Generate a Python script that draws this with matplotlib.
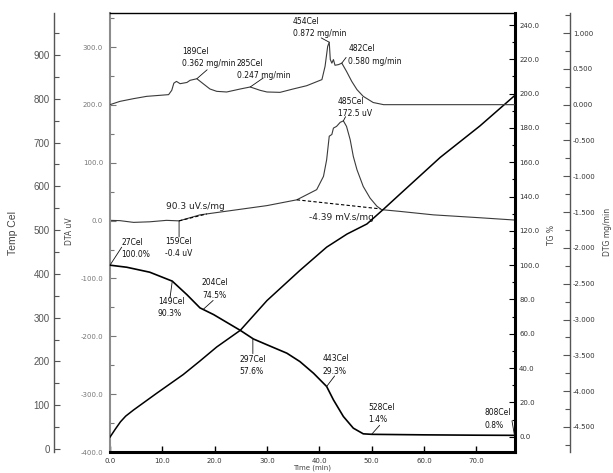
import numpy as np
import matplotlib
matplotlib.use('Agg')
import matplotlib.pyplot as plt
from matplotlib.ticker import MultipleLocator, FormatStrFormatter

plt.rcParams['axes.unicode_minus'] = False

# ---------------- data ----------------
# DTG (mg/min)
t_dtg = [0, 1.9, 4.5, 7.0, 11.2, 11.8, 12.2, 12.7, 13.4, 14.7, 15.3, 16.6, 17.8, 19.1,
         20.4, 22.3, 24.9, 26.8, 28.7, 30.0, 32.5, 35.0, 37.6, 40.5, 41.1, 41.6, 41.9,
         42.1, 42.4, 42.7, 43.0, 43.7, 44.3, 45.2, 46.2, 47.2, 48.4, 50.3, 52.3, 60, 70, 77.4]
v_dtg = [0.0, 0.046, 0.084, 0.116, 0.14, 0.2, 0.30, 0.325, 0.293, 0.31, 0.34, 0.362, 0.293,
         0.219, 0.186, 0.177, 0.219, 0.247, 0.2, 0.177, 0.172, 0.219, 0.265, 0.35, 0.535,
         0.814, 0.872, 0.63, 0.58, 0.63, 0.55, 0.56, 0.58, 0.465, 0.325, 0.21, 0.116, 0.03,
         0.0, 0.0, 0.0, 0.0]

# DTA (uV)
t_dta = [0, 1.9, 4.5, 7.6, 10.8, 13.2, 17.2, 23.6, 30.0, 35.7, 39.5, 40.8, 41.4, 41.9, 42.4,
         42.7, 43.3, 44.0, 44.6, 45.2, 45.9, 46.5, 47.2, 48.4, 49.7, 51.0, 51.9, 55.4, 61.8,
         70.7, 77.4]
v_dta = [0.5, 0, -3, -2, 0.5, -0.4, 10, 18, 26, 36, 53.6, 76.6, 105, 146, 149, 160, 163, 170,
         172.5, 163, 140, 111, 88, 59, 39, 25, 19, 16, 10, 5, 1]

# TG (%)
t_tg = [0, 3.2, 7.6, 11.9, 14.7, 17.2, 19.8, 24.9, 27.4, 30.0, 33.8, 36.3, 38.9, 41.4, 42.7,
        44.6, 46.5, 48.4, 50.0, 60, 70, 77.4]
v_tg = [100, 98.8, 95.9, 90.7, 82.8, 75.1, 71.2, 62, 57, 53.6, 48.7, 43.8, 37, 29.3, 21.5,
        11.8, 5, 1.7, 1.4, 1.1, 0.9, 0.8]

# Temperature (Cel)
t_temp = [0, 1.0, 2.0, 3.0, 4.5, 8.9, 14.0, 17.2, 20.4, 24.9, 30.0, 36.3, 41.4, 45.3, 49.1,
          52.3, 55.4, 63.1, 70.7, 77.4]
v_temp = [27, 45, 62, 75, 89, 127, 170, 201, 233, 271, 339, 408, 461, 491, 514, 548, 582,
          666, 738, 808]

x_ticks = [0, 10, 20, 30, 40, 50, 60, 70]

# peak-area annotations
area1 = "90.3 uV.s/mg"
area2 = "-4.39 mV.s/mg"
area1_range = (13.2, 18.5)
area2_range = (35.7, 51.7)

# ---------------- figure ----------------
W, H = 613, 473
L, R, B, T = 110, 515, 452, 13
fig = plt.figure(figsize=(W / 100, H / 100), dpi=100)
ax = fig.add_axes([L / W, 1 - B / H, (R - L) / W, (B - T) / H])
ax_temp = ax.twinx()
ax_tg = ax.twinx()
ax_dtg = ax.twinx()

ax.set_xlim(0, 77.4)
ax.set_ylim(-400, 359)
ax_temp.set_ylim(-7, 996)
ax_tg.set_ylim(-8.9, 247)
ax_dtg.set_ylim(-4.85, 1.28)

for a in (ax, ax_temp, ax_tg, ax_dtg):
    for s in a.spines.values():
        s.set_visible(False)

# main axes spines
ax.spines['left'].set_visible(True)
ax.spines['left'].set_color('#8c8c8c')
ax.spines['left'].set_linewidth(1.5)
ax.spines['top'].set_visible(True)
ax.spines['top'].set_color('black')
ax.spines['top'].set_linewidth(1.0)
ax.spines['bottom'].set_visible(True)
ax.spines['bottom'].set_color('black')
ax.spines['bottom'].set_linewidth(2.2)

ax_tg.spines['right'].set_visible(True)
ax_tg.spines['right'].set_color('black')
ax_tg.spines['right'].set_linewidth(2.2)

ax_temp.yaxis.tick_left()
ax_temp.spines['left'].set_visible(True)
ax_temp.spines['left'].set_position(('axes', (54 - L) / (R - L)))
ax_temp.spines['left'].set_color('#555555')
ax_temp.spines['left'].set_linewidth(1.0)

ax_dtg.spines['right'].set_visible(True)
ax_dtg.spines['right'].set_position(('axes', (570 - L) / (R - L)))
ax_dtg.spines['right'].set_color('#555555')
ax_dtg.spines['right'].set_linewidth(1.0)

# x axis
ax.xaxis.set_major_locator(plt.FixedLocator(x_ticks))
ax.xaxis.set_major_formatter(FormatStrFormatter('%.1f'))
ax.tick_params(axis='x', direction='in', length=4, width=1.0, color='black', pad=4,
               labelsize=5, labelcolor='#333333', top=False)

# DTA axis
ax.yaxis.set_major_locator(MultipleLocator(100))
ax.yaxis.set_minor_locator(MultipleLocator(50))
ax.yaxis.set_major_formatter(FormatStrFormatter('%.1f'))
ax.tick_params(axis='y', which='major', direction='in', length=4, width=0.8,
               color='#777777', pad=5, labelsize=5, labelcolor='#777777')
ax.tick_params(axis='y', which='minor', direction='in', length=3, width=0.8, color='#777777')

# Temp axis
ax_temp.yaxis.set_major_locator(MultipleLocator(100))
ax_temp.yaxis.set_minor_locator(MultipleLocator(50))
ax_temp.yaxis.set_major_formatter(FormatStrFormatter('%d'))
ax_temp.tick_params(axis='y', which='major', direction='in', length=4.5, width=0.8,
                    color='#555555', pad=3, labelsize=7, labelcolor='#555555',
                    left=True, right=False, labelleft=True, labelright=False)
ax_temp.tick_params(axis='y', which='minor', direction='in', length=3.5, width=0.8,
                    color='#555555', left=True, right=False)
for lab in ax_temp.get_yticklabels():
    lab.set_fontfamily('Liberation Sans')

# TG axis
ax_tg.yaxis.set_major_locator(MultipleLocator(20))
ax_tg.yaxis.set_minor_locator(MultipleLocator(10))
ax_tg.yaxis.set_major_formatter(FormatStrFormatter('%.1f'))
ax_tg.tick_params(axis='y', which='major', direction='in', length=4, width=0.8,
                  color='black', pad=3, labelsize=5, labelcolor='#333333')
ax_tg.tick_params(axis='y', which='minor', direction='in', length=2.5, width=0.8, color='black')

# DTG axis
ax_dtg.yaxis.set_major_locator(MultipleLocator(0.5))
ax_dtg.yaxis.set_minor_locator(MultipleLocator(0.25))
ax_dtg.yaxis.set_major_formatter(FormatStrFormatter('%.3f'))
ax_dtg.tick_params(axis='y', which='major', direction='in', length=5, width=0.8,
                   color='#555555', pad=2, labelsize=5, labelcolor='#333333')
ax_dtg.tick_params(axis='y', which='minor', direction='in', length=3.5, width=0.8,
                   color='#555555')

# ---------------- curves ----------------
ax.plot(t_dta, v_dta, color='#3a3a3a', lw=0.8)
ax_dtg.plot(t_dtg, v_dtg, color='#3a3a3a', lw=0.8)
ax_tg.plot(t_tg, v_tg, color='black', lw=1.2)
ax_temp.plot(t_temp, v_temp, color='black', lw=1.1)

# baselines (dashed) on DTA
for rng in (area1_range, area2_range):
    ys = np.interp(rng, t_dta, v_dta)
    ax.plot(rng, ys, color='black', lw=0.8, ls=(0, (3, 2)))

ax.annotate(area1, xy=(area1_range[0], np.interp(area1_range[0], t_dta, v_dta)),
            xytext=(-13, 14), textcoords='offset pixels', fontsize=6.5, color='#222222',
            ha='left', va='center')
ax.annotate(area2, xy=(area2_range[1], np.interp(area2_range[1], t_dta, v_dta)),
            xytext=(-39, -9), textcoords='offset pixels', fontsize=6.5, color='#222222',
            ha='center', va='center')


def label(axis, t_arr, v_arr, t0, text, txt_off, lead_off):
    v0 = np.interp(t0, t_arr, v_arr)
    axis.annotate('', xy=(t0, v0), xytext=lead_off, textcoords='offset pixels',
                  annotation_clip=False,
                  arrowprops=dict(arrowstyle='-', lw=0.6, color='#111111',
                                  shrinkA=0, shrinkB=0))
    axis.annotate(text, xy=(t0, v0), xytext=txt_off, textcoords='offset pixels',
                  annotation_clip=False, ha='left', va='top', fontsize=5.5,
                  linespacing=1.45, color='#111111')


label(ax_dtg, t_dtg, v_dtg, 16.6, "189Cel\n0.362 mg/min", (-14.7, 32), (10.3, 9))
label(ax_dtg, t_dtg, v_dtg, 26.8, "285Cel\n0.247 mg/min", (-13.3, 28), (13, 9))
label(ax_dtg, t_dtg, v_dtg, 41.9, "454Cel\n0.872 mg/min", (-36.3, 25.3), (-8, 4.3))
label(ax_dtg, t_dtg, v_dtg, 44.3, "482Cel\n0.580 mg/min", (6.6, 18.7), (4.3, 5.7))
label(ax, t_dta, v_dta, 44.6, "485Cel\n172.5 uV", (-5.3, 23.7), (2.2, 4.2))
label(ax, t_dta, v_dta, 13.2, "159Cel\n-0.4 uV", (-14, -16), (0, -16))
label(ax_tg, t_tg, v_tg, 0.0, "27Cel\n100.0%", (11.7, 27), (11.7, 18))
label(ax_tg, t_tg, v_tg, 11.9, "149Cel\n90.3%", (-14.3, -16), (-2.3, -17))
label(ax_tg, t_tg, v_tg, 17.8, "204Cel\n74.5%", (-1.3, 31), (10, 9))
label(ax_tg, t_tg, v_tg, 27.3, "297Cel\n57.6%", (-13.7, -16), (0, -15))
label(ax_tg, t_tg, v_tg, 41.4, "443Cel\n29.3%", (-4.3, 32), (8, 10.5))
label(ax_tg, t_tg, v_tg, 50.0, "528Cel\n1.4%", (-3.7, 31), (8, 9))
label(ax_tg, t_tg, v_tg, 77.3, "808Cel\n0.8%", (-29.7, 27), (-2.5, 14.5))

# ---------------- axis labels ----------------
fig.text(13 / W, 1 - 233 / H, "Temp Cel", rotation=90, ha='center', va='center',
         fontsize=7.5, color='#444444', family='Liberation Sans')
fig.text(70 / W, 1 - 231 / H, "DTA uV", rotation=90, ha='center', va='center',
         fontsize=5.5, color='#444444')
fig.text(551 / W, 1 - 235 / H, "TG %", rotation=90, ha='center', va='center',
         fontsize=5.5, color='#444444')
fig.text(608 / W, 1 - 232 / H, "DTG mg/min", rotation=90, ha='center', va='center',
         fontsize=5.5, color='#444444')
fig.text(312 / W, 1 - 468 / H, "Time (min)", ha='center', va='center',
         fontsize=5, color='#444444')

fig.savefig('out.png', dpi=100)
